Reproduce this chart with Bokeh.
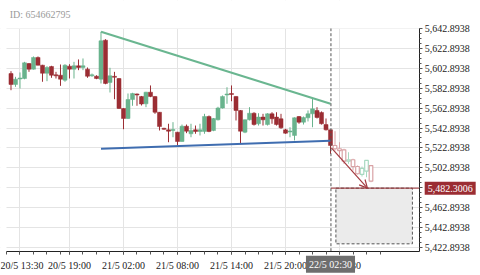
from bokeh.plotting import figure
from bokeh.models import (FixedTicker, NumeralTickFormatter, Label, Arrow, OpenHead,
                          ColumnDataSource, BoxAnnotation)
from bokeh.embed import file_html
from bokeh.resources import INLINE

# ---- data ----
opens = [5597.8, 5586.8, 5592.3, 5592.8, 5607.9, 5602.2, 5614.0, 5606.2, 5598.1, 5604.9,
         5596.5, 5596.1, 5591.1, 5605.2, 5602.2, 5605.6, 5603.9, 5602.2, 5595.6, 5595.1,
         5592.1, 5631.4, 5588.8, 5595.0, 5592.8, 5562.6, 5552.5, 5571.6, 5577.2, 5574.7,
         5567.3, 5579.0, 5574.7, 5558.8, 5542.6, 5541.1, 5540.4, 5538.7, 5529.3, 5544.7,
         5537.1, 5541.1, 5539.4, 5539.4, 5554.5, 5540.4, 5551.2, 5563.0, 5576.2, 5577.7,
         5574.7, 5560.6, 5538.7, 5551.2, 5557.8, 5547.2, 5553.9, 5546.4, 5557.2, 5553.9,
         5552.2, 5541.1, 5538.9, 5535.4, 5554.5, 5548.8, 5553.2, 5557.2, 5560.6, 5558.6,
         5546.4, 5541.1]
highs = [5600.2, 5594.5, 5598.9, 5609.6, 5608.4, 5615.0, 5615.0, 5606.6, 5605.2, 5605.6,
         5599.5, 5606.9, 5607.2, 5607.2, 5609.6, 5612.0, 5613.0, 5603.9, 5597.8, 5596.1,
         5639.9, 5632.4, 5603.6, 5599.5, 5593.2, 5562.9, 5577.7, 5578.4, 5577.7, 5575.2,
         5579.4, 5585.8, 5575.0, 5559.0, 5543.1, 5547.2, 5548.8, 5539.0, 5546.4, 5546.4,
         5547.2, 5545.4, 5547.2, 5557.2, 5555.5, 5553.0, 5564.3, 5575.7, 5584.0, 5585.8,
         5575.0, 5561.0, 5551.5, 5563.9, 5558.8, 5557.8, 5557.2, 5557.8, 5558.8, 5558.8,
         5557.2, 5542.1, 5543.7, 5553.6, 5555.0, 5554.5, 5560.6, 5572.3, 5563.9, 5559.6,
         5552.5, 5541.1]
lows = [5581.0, 5584.4, 5582.7, 5592.0, 5599.5, 5601.8, 5606.0, 5589.5, 5590.1, 5593.5,
        5592.8, 5585.4, 5589.5, 5592.8, 5592.8, 5601.2, 5601.2, 5593.5, 5594.5, 5592.1,
        5587.8, 5587.0, 5578.7, 5571.9, 5562.2, 5541.7, 5552.0, 5565.3, 5565.3, 5565.6,
        5563.9, 5574.0, 5557.2, 5540.4, 5541.1, 5528.6, 5533.6, 5525.3, 5529.0, 5537.7,
        5533.6, 5537.1, 5535.4, 5537.1, 5538.7, 5539.7, 5550.5, 5562.5, 5567.3, 5569.9,
        5550.5, 5527.0, 5537.7, 5550.5, 5545.4, 5545.4, 5545.4, 5545.4, 5547.2, 5545.4,
        5542.1, 5537.1, 5533.6, 5530.4, 5547.2, 5546.4, 5549.5, 5543.7, 5552.5, 5546.4,
        5540.4, 5516.9]
closes = [5586.8, 5592.1, 5593.3, 5608.6, 5602.2, 5614.0, 5606.2, 5598.1, 5603.9, 5596.1,
          5595.5, 5592.1, 5606.2, 5602.2, 5605.6, 5603.9, 5605.6, 5595.1, 5596.4, 5592.8,
          5630.8, 5587.8, 5595.5, 5594.0, 5562.6, 5552.5, 5571.6, 5577.7, 5576.2, 5567.1,
          5579.0, 5574.7, 5558.8, 5544.4, 5541.6, 5539.7, 5541.4, 5529.3, 5544.7, 5539.7,
          5540.4, 5539.4, 5541.1, 5554.5, 5539.4, 5552.5, 5563.0, 5574.7, 5577.2, 5576.7,
          5560.6, 5539.7, 5551.2, 5557.8, 5546.4, 5553.9, 5551.2, 5557.2, 5552.2, 5546.4,
          5543.1, 5537.7, 5539.9, 5553.2, 5548.8, 5553.5, 5557.2, 5562.2, 5553.5, 5547.2,
          5541.1, 5525.3]

fc_opens = [5525.3, 5522.0, 5520.9, 5509.5, 5510.9, 5504.1, 5496.1, 5499.4, 5505.1]
fc_highs = [5539.7, 5528.6, 5522.0, 5518.5, 5511.9, 5505.1, 5504.1, 5510.5, 5505.5]
fc_lows = [5520.2, 5513.5, 5506.8, 5506.8, 5500.1, 5496.1, 5494.0, 5493.3, 5488.3]
fc_closes = [5522.0, 5520.2, 5509.5, 5510.9, 5504.1, 5496.8, 5502.1, 5510.2, 5489.3]

resist_x = [20, 71]
resist_y = [5639.9, 5567.3]
support_x = [20, 71]
support_y = [5522.0, 5530.0]
target_price = 5482.3006
zone_low = 5426.2

x_tick_pos = [2, 13, 25, 37, 49, 61, 73]
x_tick_labels = ["20/5 13:30", "20/5 19:00", "21/5 02:00", "21/5 08:00",
                 "21/5 14:00", "21/5 20:00", "22/5 03:30"]
y_tick_vals = [5422.8938 + 20 * k for k in range(12)]
cross_label = "22/5 02:30"
id_text = "ID: 654662795"

# plotting-area extents (data units)
X_LEFT, X_RIGHT = -1.0, 90.844
Y_BOTTOM, Y_TOP = 5418.76, 5643.196
CROSS_X = 71.1

RED = "#9b2d33"
GREEN = "#69b38d"
PALE_RED = "#d9a2a5"
PALE_GREEN = "#a7d9c0"
FONT = "Liberation Serif"


def split(o, h, l, c, start):
    up = dict(x=[], top=[], bottom=[], h=[], l=[])
    dn = dict(x=[], top=[], bottom=[], h=[], l=[])
    for k in range(len(o)):
        d = up if c[k] >= o[k] else dn
        t, b = max(o[k], c[k]), min(o[k], c[k])
        if t - b < 1.0:
            m = (t + b) / 2
            t, b = m + 0.5, m - 0.5
        d["x"].append(start + k)
        d["top"].append(t)
        d["bottom"].append(b)
        d["h"].append(h[k])
        d["l"].append(l[k])
    return ColumnDataSource(up), ColumnDataSource(dn)


p = figure(width=480, height=275, x_range=(-2.3333, 104.3333), y_range=(5394.27, 5671.41),
           y_axis_location="right", output_backend="svg", toolbar_location=None, title=None,
           min_border_left=0, min_border_right=0, min_border_top=0, min_border_bottom=0)
p.outline_line_color = None
p.background_fill_color = "white"

for ax in (p.xaxis, p.yaxis):
    ax.axis_line_color = "#222222"
    ax.major_tick_line_color = "#555555"
    ax.minor_tick_line_color = "#555555"
    ax.major_tick_in = 0
    ax.minor_tick_in = 0
    ax.major_label_text_font = FONT
    ax.major_label_text_font_size = "10px"
    ax.major_label_text_color = "#222222"

p.xaxis.fixed_location = Y_BOTTOM
p.xaxis.bounds = (X_LEFT, X_RIGHT)
p.xaxis.ticker = FixedTicker(ticks=x_tick_pos,
                             minor_ticks=[-1, 2, 5, 8, 11] + list(range(13, 83, 3)))
p.xaxis.major_label_overrides = {pos: lab for pos, lab in zip(x_tick_pos, x_tick_labels)}
p.xaxis.major_tick_out = 3
p.xaxis.minor_tick_out = 3
p.xaxis.major_label_standoff = 6

p.yaxis.fixed_location = X_RIGHT
p.yaxis.bounds = (Y_BOTTOM, Y_TOP)
p.yaxis.ticker = FixedTicker(ticks=y_tick_vals,
                             minor_ticks=[5422.8938 + 5 * k for k in range(0, 45)])
p.yaxis.formatter = NumeralTickFormatter(format="0,0.0000")
p.yaxis.major_tick_out = 3
p.yaxis.minor_tick_out = 2
p.yaxis.major_label_standoff = 2

p.xgrid.grid_line_color = "#e4e4e4"
p.ygrid.grid_line_color = "#e4e4e4"

# keep grid lines inside the plotting area
for kw in (dict(left=X_RIGHT), dict(right=X_LEFT), dict(top=Y_BOTTOM), dict(bottom=Y_TOP)):
    p.add_layout(BoxAnnotation(fill_color="white", fill_alpha=1.0, line_color=None,
                               level="underlay", **kw))

# real candles
up, dn = split(opens, highs, lows, closes, 0)
for src, col in ((up, GREEN), (dn, RED)):
    p.segment(x0="x", x1="x", y0="h", y1="l", source=src, line_color=col, line_width=1)
    p.vbar(x="x", width=0.9, top="top", bottom="bottom", source=src,
           fill_color=col, line_color=col, line_width=0.5)

# forecast candles
fup, fdn = split(fc_opens, fc_highs, fc_lows, fc_closes, len(opens))
for src, col in ((fup, PALE_GREEN), (fdn, PALE_RED)):
    p.segment(x0="x", x1="x", y0="h", y1="top", source=src, line_color=col, line_width=1)
    p.segment(x0="x", x1="x", y0="bottom", y1="l", source=src, line_color=col, line_width=1)
    p.vbar(x="x", width=0.8, top="top", bottom="bottom", source=src,
           fill_color="white", line_color=col, line_width=1.2)

# target zone
p.quad(left=72.2, right=89.2, top=target_price, bottom=zone_low,
       fill_color="#ebebeb", line_color="#555555", line_dash="3 2", line_width=1)

# trend lines
p.line(resist_x, resist_y, line_color="#6ab690", line_width=2)
p.line(support_x, support_y, line_color="#3f6db0", line_width=2)

# crosshair
p.segment(x0=CROSS_X, x1=CROSS_X, y0=Y_BOTTOM, y1=Y_TOP, line_color="#555555",
          line_dash="3 2", line_width=1)

# target line and arrow
p.segment(x0=CROSS_X, x1=X_RIGHT, y0=target_price, y1=target_price, line_color=RED, line_width=1)
p.add_layout(Arrow(end=OpenHead(size=8, line_color="#a33a40", line_width=1.2),
                   x_start=71.2, y_start=5522.8, x_end=79.2, y_end=target_price,
                   line_color="#a33a40", line_width=1.2))

# labels
p.add_layout(Label(x=91.93, y=target_price, text="5,482.3006",
                   text_font=FONT, text_font_size="10px", text_color="white",
                   text_align="left", text_baseline="middle",
                   background_fill_color=RED, padding=3))
p.add_layout(Label(x=71.0, y=5405.66, text=cross_label,
                   text_font=FONT, text_font_size="10px", text_color="white",
                   text_align="center", text_baseline="middle",
                   background_fill_color="#6e6e6e", padding=3))
p.add_layout(Label(x=-0.27, y=5657.6, text=id_text, text_font=FONT,
                   text_font_size="10px", text_color="#9a9a9a", text_align="left",
                   text_baseline="middle"))

open("out.html", "w").write(file_html(p, INLINE))
